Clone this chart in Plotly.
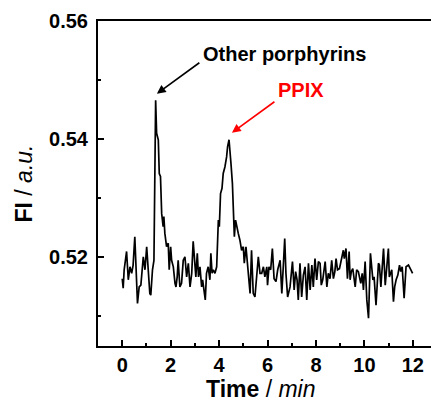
import plotly.graph_objects as go

time_min = [0.00, 0.04, 0.08, 0.18, 0.25, 0.32, 0.39, 0.45, 0.52, 0.59, 0.63, 0.70, 0.77, 0.87, 0.94,
            1.01, 1.07, 1.14, 1.18, 1.25, 1.31, 1.38, 1.42, 1.49, 1.53, 1.58, 1.63, 1.69, 1.72, 1.76,
            1.83, 1.90, 1.94, 2.00, 2.04, 2.11, 2.18, 2.22, 2.27, 2.31, 2.38, 2.45, 2.52, 2.59, 2.66,
            2.73, 2.80, 2.87, 2.93, 3.00, 3.04, 3.10, 3.15, 3.21, 3.28, 3.32, 3.37, 3.43, 3.48, 3.55,
            3.62, 3.66, 3.71, 3.76, 3.83, 3.90, 3.97, 4.01, 4.06, 4.12, 4.17, 4.24, 4.31, 4.35, 4.41,
            4.45, 4.49, 4.55, 4.59, 4.63, 4.68, 4.72, 4.79, 4.86, 4.93, 5.00, 5.04, 5.11, 5.17, 5.22,
            5.28, 5.34, 5.41, 5.48, 5.55, 5.62, 5.69, 5.76, 5.83, 5.89, 5.97, 6.00, 6.06, 6.13, 6.20,
            6.27, 6.35, 6.42, 6.52, 6.59, 6.65, 6.71, 6.76, 6.83, 6.93, 7.03, 7.10, 7.16, 7.22, 7.27,
            7.34, 7.41, 7.48, 7.55, 7.62, 7.69, 7.76, 7.83, 7.89, 7.96, 8.03, 8.10, 8.17, 8.22, 8.28,
            8.38, 8.45, 8.51, 8.58, 8.65, 8.72, 8.78, 8.83, 8.89, 8.97, 9.04, 9.11, 9.13, 9.17, 9.24,
            9.30, 9.37, 9.41, 9.46, 9.52, 9.62, 9.68, 9.75, 9.85, 9.91, 9.96, 10.03, 10.10, 10.17, 10.25,
            10.35, 10.40, 10.48, 10.58, 10.62, 10.68, 10.73, 10.79, 10.86, 10.92, 10.99, 11.03, 11.13, 11.20, 11.25,
            11.31, 11.38, 11.45, 11.50, 11.56, 11.64, 11.72, 11.82, 11.92, 11.99]

fi_au = [0.5164, 0.5148, 0.5179, 0.5210, 0.5162, 0.5184, 0.5173, 0.5187, 0.5235, 0.5150, 0.5122, 0.5150, 0.5153, 0.5201, 0.5179,
         0.5218, 0.5184, 0.5139, 0.5136, 0.5179, 0.5195, 0.5466, 0.5410, 0.5399, 0.5342, 0.5337, 0.5274, 0.5252, 0.5269, 0.5241,
         0.5218, 0.5224, 0.5179, 0.5218, 0.5195, 0.5184, 0.5156, 0.5150, 0.5167, 0.5195, 0.5150, 0.5156, 0.5195, 0.5201, 0.5167,
         0.5190, 0.5150, 0.5173, 0.5227, 0.5190, 0.5167, 0.5207, 0.5167, 0.5184, 0.5150, 0.5162, 0.5145, 0.5128, 0.5173, 0.5184,
         0.5162, 0.5207, 0.5173, 0.5179, 0.5173, 0.5184, 0.5263, 0.5252, 0.5308, 0.5317, 0.5342, 0.5353, 0.5370, 0.5387, 0.5399,
         0.5382, 0.5359, 0.5325, 0.5286, 0.5235, 0.5263, 0.5252, 0.5241, 0.5229, 0.5212, 0.5218, 0.5190, 0.5218, 0.5184, 0.5167,
         0.5139, 0.5212, 0.5139, 0.5133, 0.5167, 0.5201, 0.5173, 0.5173, 0.5184, 0.5167, 0.5184, 0.5153, 0.5184, 0.5179, 0.5215,
         0.5164, 0.5159, 0.5179, 0.5195, 0.5139, 0.5184, 0.5232, 0.5173, 0.5133, 0.5150, 0.5193, 0.5145, 0.5176, 0.5162, 0.5128,
         0.5190, 0.5133, 0.5170, 0.5184, 0.5128, 0.5190, 0.5145, 0.5187, 0.5150, 0.5198, 0.5162, 0.5193, 0.5190, 0.5153, 0.5162,
         0.5193, 0.5150, 0.5173, 0.5164, 0.5195, 0.5164, 0.5176, 0.5198, 0.5179, 0.5181, 0.5193, 0.5207, 0.5212, 0.5198, 0.5215,
         0.5164, 0.5210, 0.5162, 0.5176, 0.5181, 0.5150, 0.5179, 0.5176, 0.5156, 0.5173, 0.5145, 0.5193, 0.5128, 0.5097, 0.5207,
         0.5162, 0.5167, 0.5119, 0.5190, 0.5187, 0.5150, 0.5190, 0.5215, 0.5153, 0.5181, 0.5215, 0.5167, 0.5179, 0.5125, 0.5150,
         0.5162, 0.5170, 0.5187, 0.5176, 0.5184, 0.5131, 0.5184, 0.5187, 0.5179, 0.5173]

x_ticks = [0, 2, 4, 6, 8, 10, 12]
y_ticks = [0.52, 0.54, 0.56]
peak_labels = ["Other porphyrins", "PPIX"]
peak_tips_x = [1.43, 4.53]
peak_tips_y = [0.5477, 0.5411]
label_x = [3.25, 6.33]
label_y = [0.5545, 0.5484]
label_colors = ["black", "#ff0000"]

FONT = "Liberation Sans"

fig = go.Figure()
fig.add_trace(go.Scatter(x=time_min, y=fi_au, mode="lines",
                         line=dict(color="black", width=1.7), showlegend=False))

for i in range(len(peak_labels)):
    fig.add_annotation(x=peak_tips_x[i], y=peak_tips_y[i], xref="x", yref="y",
                       text="", showarrow=True, ax=44, ay=-32,
                       arrowhead=2, arrowsize=1.1, arrowwidth=1.6,
                       arrowcolor=label_colors[i], standoff=0)
    fig.add_annotation(x=label_x[i], y=label_y[i], xref="x", yref="y",
                       text="<b>" + peak_labels[i] + "</b>", showarrow=False,
                       xanchor="left", yanchor="middle",
                       font=dict(family=FONT, size=20, color=label_colors[i]))

# x-axis title as a paper-positioned annotation
fig.add_annotation(x=0.4895, y=-0.131, xref="paper", yref="paper",
                   text="<b>Time</b> / <i>min</i>", showarrow=False,
                   xanchor="center", yanchor="middle",
                   font=dict(family=FONT, size=23, color="black"))

fig.update_layout(
    width=431, height=403,
    margin=dict(l=98, r=0, t=21, b=57),
    plot_bgcolor="white", paper_bgcolor="white",
    font=dict(family=FONT, color="black"),
)
fig.update_xaxes(
    automargin=False,
    range=[-1.0, 12.75], tickvals=x_ticks, ticktext=[str(v) for v in x_ticks],
    showgrid=False, zeroline=False,
    showline=True, linecolor="black", linewidth=2, mirror=True,
    ticks="inside", ticklen=6, tickwidth=2, tickcolor="black",
    minor=dict(dtick=1, ticks="inside", ticklen=3, tickwidth=2, tickcolor="black"),
    tickfont=dict(family=FONT, size=20, weight="bold", color="black"),
    ticklabelstandoff=0,
)
fig.update_yaxes(
    automargin=False,
    range=[0.505, 0.56], tickvals=y_ticks, ticktext=["%.2f" % v for v in y_ticks],
    showgrid=False, zeroline=False,
    showline=True, linecolor="black", linewidth=2, mirror=False,
    ticks="inside", ticklen=6, tickwidth=2, tickcolor="black",
    minor=dict(dtick=0.01, tick0=0.51, ticks="inside", ticklen=3, tickwidth=2, tickcolor="black"),
    tickfont=dict(family=FONT, size=20, weight="bold", color="black"),
    ticklabelstandoff=4,
    title=dict(text="<b>FI</b> / <i>a.u.</i>", font=dict(family=FONT, size=23, color="black"), standoff=10),
)

fig.write_html("out.html", config={"displayModeBar": False},
               post_script="document.body.style.margin='0';document.body.style.overflow='hidden';")
